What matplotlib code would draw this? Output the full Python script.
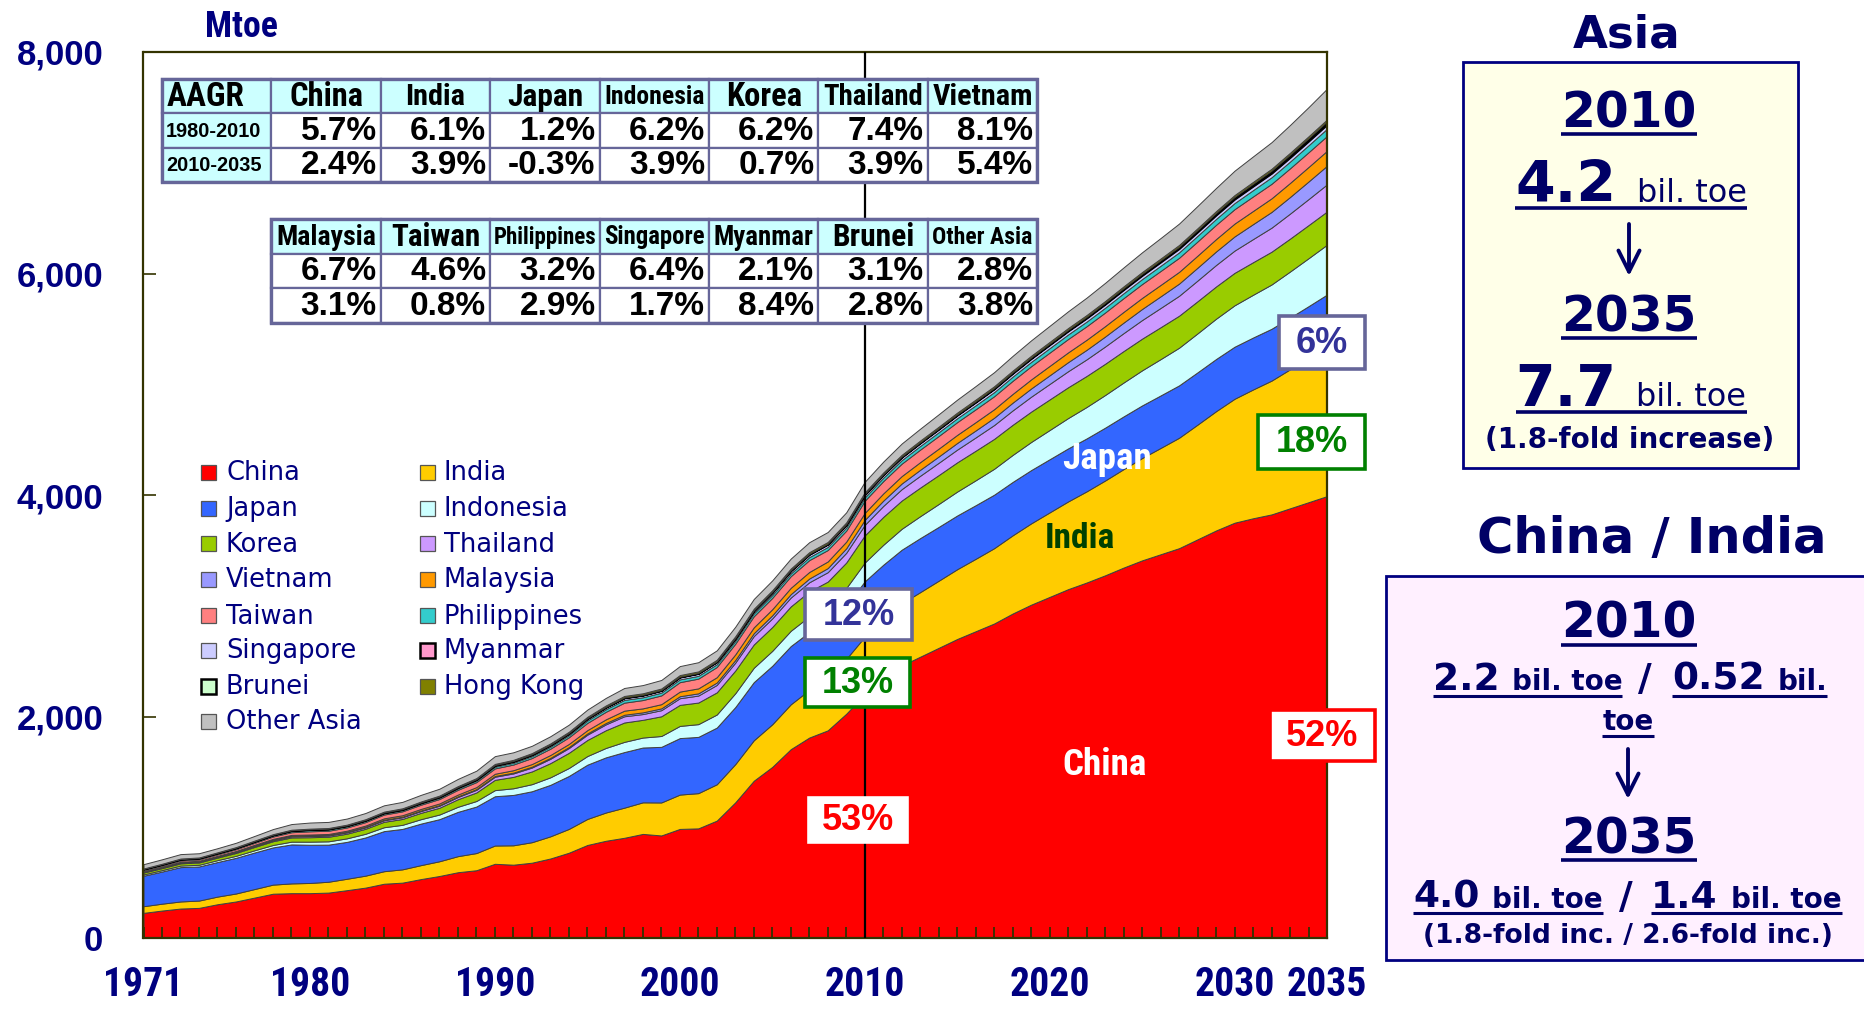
import matplotlib
matplotlib.use("Agg")
import matplotlib.pyplot as plt
from matplotlib.patches import Rectangle
from matplotlib.ticker import FuncFormatter
from matplotlib.font_manager import FontProperties
from matplotlib import font_manager

# ---------------------------------------------------------------- data (Mtoe)
years = list(range(1971, 2036))

china = [227, 248, 266, 272, 305, 330, 365, 400, 405, 405,
         410, 432, 455, 490, 500, 532, 560, 594, 612, 670,
         662, 680, 718, 770, 840, 878, 905, 940, 926, 985,
         990, 1060, 1225, 1420, 1545, 1705, 1810, 1875, 2025, 2200,
         2340, 2460, 2540, 2620, 2700, 2770, 2840, 2930, 3010, 3080,
         3150, 3210, 3275, 3345, 3410, 3465, 3520, 3600, 3680, 3750,
         3790, 3825, 3880, 3935, 3990]
india = [60, 62, 64, 66, 69, 72, 77, 82, 88, 92,
         98, 103, 108, 113, 120, 126, 133, 145, 155, 165,
         175, 185, 200, 215, 235, 255, 272, 285, 298, 310,
         318, 328, 345, 365, 385, 405, 430, 460, 495, 520,
         540, 561, 583, 606, 630, 654, 680, 706, 734, 763,
         792, 823, 856, 889, 924, 960, 997, 1036, 1077, 1119,
         1163, 1208, 1255, 1304, 1355]
japan = [275, 290, 310, 308, 312, 322, 330, 336, 352, 345,
         335, 333, 345, 362, 365, 375, 380, 400, 420, 445,
         455, 460, 465, 478, 490, 498, 502, 495, 502, 510,
         508, 512, 515, 525, 528, 526, 522, 505, 480, 500,
         490, 485, 488, 486, 485, 484, 483, 482, 481, 480,
         479, 478, 477, 476, 475, 474, 473, 472, 471, 470,
         469, 468, 467, 466, 465]
indonesia = [12, 13, 14, 15, 17, 18, 20, 22, 25, 28,
             30, 32, 33, 35, 37, 40, 42, 46, 50, 55,
             60, 64, 68, 72, 78, 85, 92, 90, 98, 110,
             115, 118, 125, 130, 135, 138, 142, 150, 160, 170,
             180, 189, 198, 207, 216, 225, 234, 244, 254, 264,
             274, 284, 295, 306, 317, 328, 340, 352, 364, 374,
             386, 400, 416, 433, 450]
korea = [17, 18, 20, 21, 23, 26, 30, 34, 38, 40,
         41, 42, 45, 49, 53, 57, 61, 68, 77, 93,
         103, 115, 128, 137, 145, 160, 175, 160, 178, 190,
         195, 200, 205, 210, 215, 220, 225, 228, 230, 245,
         252, 255, 258, 261, 264, 267, 270, 272, 274, 276,
         278, 280, 282, 284, 286, 288, 289, 290, 291, 293,
         294, 296, 297, 299, 300]
thailand = [5, 5.5, 6, 6.5, 7, 8, 8.5, 9.5, 10.5, 11,
            11.5, 12, 13, 14, 15, 16, 18, 20, 24, 28,
            31, 35, 39, 43, 48, 53, 56, 52, 55, 60,
            63, 67, 71, 76, 78, 80, 83, 85, 88, 95,
            99, 103, 107, 111, 115, 120, 125, 130, 135, 140,
            145, 150, 156, 162, 168, 174, 180, 187, 194, 201,
            209, 217, 226, 235, 245]
vietnam = [3, 3.2, 3.4, 3.5, 3.5, 3.8, 4, 4.2, 4.3, 4.4,
           4.5, 4.6, 4.8, 5, 5.3, 5.6, 6, 6.3, 6.6, 7,
           7.3, 7.8, 8.5, 9.2, 11, 12.5, 14, 15.5, 16.5, 18,
           20, 22, 24, 26, 28, 31, 34, 37, 41, 45,
           48, 51, 54, 57, 60, 63, 66, 70, 74, 78,
           82, 86, 90, 95, 100, 105, 110, 116, 122, 128,
           135, 142, 150, 159, 168]
malaysia = [4, 4.3, 4.8, 5.3, 5.5, 6, 6.8, 7.5, 8.3, 9,
            9.5, 10.5, 11.5, 12.5, 13.5, 14, 15, 16, 18, 20,
            22, 24, 26, 28, 30, 33, 37, 36, 38, 42,
            45, 48, 51, 53, 55, 57, 59, 60, 60, 63,
            65, 67, 69, 71, 73, 75, 77, 79, 82, 85,
            88, 91, 94, 97, 100, 103, 106, 109, 112, 116,
            119, 123, 127, 131, 135]
taiwan = [10, 11, 12.5, 13, 14, 16, 18, 21, 24, 29,
          29, 29, 31, 34, 35, 38, 40, 43, 45, 48,
          51, 54, 57, 60, 65, 68, 72, 75, 79, 85,
          88, 92, 96, 100, 102, 105, 107, 103, 99, 110,
          111, 112, 113, 114, 115, 116, 117, 118, 119, 120,
          121, 122, 123, 124, 125, 126, 127, 128, 129, 130,
          131, 131, 132, 133, 134]
philippines = [8, 8.5, 9, 9, 9.5, 10, 10.5, 11, 11.5, 12,
               12, 12, 12, 11, 11, 11.5, 12, 13, 14, 16,
               16, 17, 18, 19, 22, 23, 25, 25, 25, 25,
               25, 25, 26, 26, 26, 25, 27, 28, 29, 30,
               31, 32, 33, 34, 35, 36, 37, 38, 39, 40,
               41, 42, 43, 44, 45, 47, 49, 51, 53, 55,
               57, 59, 61, 63, 65]
singapore = [2, 2.2, 2.4, 2.5, 2.6, 2.8, 3, 3.3, 3.6, 4,
             4.3, 4.6, 5, 5.5, 6, 6.5, 7.5, 8.5, 10, 12,
             13, 13.5, 14.5, 15.5, 17, 17.5, 18, 18.5, 19, 20,
             21, 21, 21.5, 22, 23, 23.5, 24, 24, 24.5, 25,
             25.5, 26, 26.5, 27, 27.5, 28, 28.5, 29, 29.5, 30,
             30.5, 31, 31.5, 32, 32.5, 33, 33.5, 34, 34.5, 35,
             35.5, 36, 36.5, 37, 38]
myanmar = [1.2, 1.2, 1.3, 1.3, 1.3, 1.4, 1.4, 1.5, 1.5, 1.6,
           1.6, 1.7, 1.7, 1.7, 1.8, 1.8, 1.8, 1.6, 1.6, 1.7,
           1.7, 1.8, 1.9, 2.0, 2.1, 2.2, 2.3, 2.4, 2.5, 2.6,
           2.7, 2.8, 2.8, 2.9, 3.0, 3.0, 3.1, 3.0, 3.0, 3.0,
           3.3, 3.6, 3.9, 4.2, 4.6, 5.0, 5.4, 5.8, 6.3, 6.8,
           7.4, 8.0, 8.7, 9.4, 10.2, 11.0, 12.0, 13.0, 14.0, 15.2,
           16.5, 17.9, 19.4, 20.6, 22.0]
brunei = [0.5, 0.6, 0.6, 0.7, 0.8, 0.9, 1.0, 1.0, 1.1, 1.2,
          1.2, 1.3, 1.3, 1.4, 1.5, 1.5, 1.6, 1.7, 1.7, 1.8,
          1.9, 2.0, 2.0, 2.1, 2.2, 2.2, 2.3, 2.3, 2.4, 2.4,
          2.5, 2.5, 2.6, 2.6, 2.7, 2.7, 2.8, 2.9, 2.9, 3.0,
          3.1, 3.2, 3.3, 3.4, 3.5, 3.6, 3.7, 3.8, 3.9, 4.0,
          4.1, 4.2, 4.3, 4.4, 4.5, 4.6, 4.8, 5.0, 5.1, 5.2,
          5.4, 5.5, 5.7, 5.8, 6.0]
hong_kong = [3, 3.2, 3.5, 3.5, 3.7, 4, 4.3, 4.6, 5, 5.3,
             5.6, 6, 6.3, 6.8, 7.2, 7.6, 8, 8.5, 9, 9.5,
             10, 10.5, 11, 11.5, 12, 12.5, 13, 13, 13.5, 14,
             14, 14, 14.5, 14.5, 14.5, 14.5, 15, 15, 15, 15,
             15.1, 15.2, 15.3, 15.4, 15.5, 15.6, 15.7, 15.8, 15.9, 16,
             16.1, 16.2, 16.3, 16.4, 16.5, 16.6, 16.7, 16.8, 16.9, 17,
             17.2, 17.4, 17.6, 17.8, 18]
other_asia = [39, 40, 40, 38, 37, 39, 42, 46, 51, 55,
              55, 55, 56, 57, 58, 60, 62, 65, 67, 70,
              68, 66, 65, 64, 65, 68, 72, 74, 77, 81,
              83, 85, 86, 88, 89, 90, 90, 90, 91, 95,
              98, 102, 107, 112, 117, 122, 127, 133, 139, 145,
              151, 157, 164, 171, 178, 185, 193, 201, 209, 220,
              230, 240, 251, 263, 278]

# stacking order, bottom to top
series_names = ["China", "India", "Japan", "Indonesia", "Korea", "Thailand",
                "Vietnam", "Malaysia", "Taiwan", "Philippines", "Singapore",
                "Myanmar", "Brunei", "Hong Kong", "Other Asia"]
series_values = [china, india, japan, indonesia, korea, thailand, vietnam,
                 malaysia, taiwan, philippines, singapore, myanmar, brunei,
                 hong_kong, other_asia]
series_colors = ["#FF0000", "#FFCC00", "#3366FF", "#CCFFFF", "#99CC00",
                 "#CC99FF", "#9999FF", "#FF9900", "#FF8080", "#33CCCC",
                 "#CCCCFF", "#FF99CC", "#CCFFCC", "#808000", "#C0C0C0"]

# growth-rate tables
aagr_names_1 = ["China", "India", "Japan", "Indonesia", "Korea", "Thailand", "Vietnam"]
aagr_8010_1 = ["5.7%", "6.1%", "1.2%", "6.2%", "6.2%", "7.4%", "8.1%"]
aagr_1035_1 = ["2.4%", "3.9%", "-0.3%", "3.9%", "0.7%", "3.9%", "5.4%"]
aagr_names_2 = ["Malaysia", "Taiwan", "Philippines", "Singapore", "Myanmar", "Brunei", "Other Asia"]
aagr_8010_2 = ["6.7%", "4.6%", "3.2%", "6.4%", "2.1%", "3.1%", "2.8%"]
aagr_1035_2 = ["3.1%", "0.8%", "2.9%", "1.7%", "8.4%", "2.8%", "3.8%"]
period_labels = ["1980-2010", "2010-2035"]

x_tick_years = [1971, 1980, 1990, 2000, 2010, 2020, 2030, 2035]
y_ticks = [0, 2000, 4000, 6000, 8000]

# ---------------------------------------------------------------- fonts
NAVY = "#000080"
DARK = "#000066"
GRID_EDGE = "#666699"
available = {f.name for f in font_manager.fontManager.ttflist}
ARIAL = "Liberation Sans" if "Liberation Sans" in available else "DejaVu Sans"
GOTHIC = "DejaVu Sans"


def _weight_num(w):
    if isinstance(w, (int, float)):
        return w
    return {"bold": 700, "heavy": 800, "black": 900, "extra bold": 800,
            "semibold": 600, "demibold": 600}.get(str(w).lower(), 400)


def condensed_bold():
    """Pick a bold narrow/condensed face if one is installed."""
    prefs = ["Liberation Sans Narrow", "Arial Narrow", "Roboto Condensed",
             "Open Sans Condensed", "DejaVu Sans Condensed", "Noto Sans Condensed"]
    cands = []
    for f in font_manager.fontManager.ttflist:
        name = f.name
        narrowish = ("Narrow" in name or "Condensed" in name or
                     str(f.stretch) in ("condensed", "semi-condensed", "extra-condensed"))
        if not narrowish or f.style != "normal" or _weight_num(f.weight) < 600:
            continue
        rank = prefs.index(name) if name in prefs else len(prefs)
        cands.append((rank, -_weight_num(f.weight) if _weight_num(f.weight) <= 700 else 0, f.fname))
    if cands:
        cands.sort()
        return FontProperties(fname=cands[0][2])
    return FontProperties(family=ARIAL, weight="bold")


NARROW_FP = condensed_bold()


def narrow(size):
    fp = NARROW_FP.copy()
    fp.set_size(size)
    return fp


# ---------------------------------------------------------------- figure
W, H = 1865, 1010
fig = plt.figure(figsize=(W / 100, H / 100), dpi=100, facecolor="white")

AX_L, AX_R, AX_T, AX_B = 143.5, 1327, 52, 938
ax = fig.add_axes([AX_L / W, 1 - AX_B / H, (AX_R - AX_L) / W, (AX_B - AX_T) / H])

polys = ax.stackplot(years, *series_values, colors=series_colors,
                     edgecolor="#404040", linewidth=0.7)
for name, poly in zip(series_names, polys):
    if name in ("Brunei", "Myanmar"):
        poly.set_edgecolor("black")
        poly.set_linewidth(1.3)

ax.axvline(2010, color="black", lw=1.6, zorder=5)
ax.set_xlim(1971, 2035)
ax.set_ylim(0, 8000)
for sp in ax.spines.values():
    sp.set_color("#333300")
    sp.set_linewidth(1.6)

ax.set_yticks(y_ticks)
ax.yaxis.set_major_formatter(FuncFormatter(lambda v, p: f"{int(v):,}"))
ax.tick_params(axis="y", direction="in", length=9, width=1.2, color="#333300",
               pad=29, labelsize=25, labelcolor=NAVY)
ax.set_xticks(x_tick_years)
ax.set_xticks(years, minor=True)
ax.set_xticklabels([str(y) for y in x_tick_years])
ax.tick_params(axis="x", which="both", direction="in", length=8, width=1.3,
               color="#333300", pad=20, labelcolor=NAVY)
for lab in ax.get_yticklabels():
    lab.set_fontfamily(ARIAL)
    lab.set_fontweight("bold")

# overlay in figure pixels (y downward) for annotations
ov = fig.add_axes([0, 0, 1, 1], zorder=10)
ov.set_xlim(0, W)
ov.set_ylim(H, 0)
ov.axis("off")
ov.patch.set_alpha(0)

renderer = fig.canvas.get_renderer()


def width_of(t):
    return t.get_window_extent(renderer=renderer).width


def fit(text, family, weight, target, ref=20):
    t = ov.text(0, 0, text, fontsize=ref, family=family, weight=weight)
    w = width_of(t)
    t.remove()
    return ref * target / w


def fit_narrow(text, target, ref=20):
    t = ov.text(0, 0, text, fontproperties=narrow(ref))
    w = width_of(t)
    t.remove()
    return ref * target / w


# x tick labels in the condensed face, sized to the label width
xsize = min(30, fit_narrow("1971", 80))
for lab in ax.get_xticklabels():
    lab.set_fontproperties(narrow(xsize))

# y-axis unit
ov.text(241, 27, "Mtoe", fontproperties=narrow(min(28, fit_narrow("Mtoe", 73))),
        color=NAVY, ha="center", va="center")

# ---------------------------------------------------------------- AAGR tables
CW, RH = 109.4, 34.5


def cell(x, y, w, h, fc, lw=1.6):
    ov.add_patch(Rectangle((x, y), w, h, facecolor=fc, edgecolor=GRID_EDGE,
                           linewidth=lw, zorder=1))


header_widths = {"AAGR": 78, "China": 74, "India": 60, "Japan": 76,
                 "Indonesia": 100, "Korea": 76, "Thailand": 100, "Vietnam": 100,
                 "Malaysia": 100, "Taiwan": 89, "Philippines": 102,
                 "Singapore": 100, "Myanmar": 100, "Brunei": 82,
                 "Other Asia": 100}


def draw_table(x0, y0, names, row1, row2, with_labels):
    cols = len(names) + (1 if with_labels else 0)
    start = x0
    if with_labels:
        cell(x0, y0, CW, RH, "#CCFFFF")
        ov.text(x0 + 5, y0 + RH / 2 + 1, "AAGR",
                fontproperties=narrow(min(26, fit_narrow("AAGR", header_widths["AAGR"]))),
                ha="left", va="center", color="black", zorder=2)
        for r, lab in enumerate(period_labels):
            cell(x0, y0 + RH * (r + 1), CW, RH, "#CCFFFF")
            ov.text(x0 + 4, y0 + RH * (r + 1.5) + 1, lab, family=ARIAL, weight="bold",
                    fontsize=fit(lab, ARIAL, "bold", 96), ha="left", va="center",
                    color="black", zorder=2)
        start = x0 + CW
    for i, name in enumerate(names):
        cx = start + CW * i
        cell(cx, y0, CW, RH, "#CCFFFF")
        ov.text(cx + CW / 2, y0 + RH / 2 + 1, name,
                fontproperties=narrow(min(26, fit_narrow(name, header_widths[name]))),
                ha="center", va="center", color="black", zorder=2)
        for r, val in enumerate((row1[i], row2[i])):
            cell(cx, y0 + RH * (r + 1), CW, RH, "white")
            ov.text(cx + CW - 4, y0 + RH * (r + 1.5) + 1, val, family=ARIAL,
                    weight="bold", fontsize=24, ha="right", va="center",
                    color="black", zorder=2)
    ov.add_patch(Rectangle((x0, y0), CW * cols, RH * 3, facecolor="none",
                           edgecolor=GRID_EDGE, linewidth=2.4, zorder=3))


draw_table(162, 78.5, aagr_names_1, aagr_8010_1, aagr_1035_1, True)
draw_table(162 + CW, 219, aagr_names_2, aagr_8010_2, aagr_1035_2, False)

# ---------------------------------------------------------------- legend
col1 = ["China", "Japan", "Korea", "Vietnam", "Taiwan", "Singapore", "Brunei", "Other Asia"]
col2 = ["India", "Indonesia", "Thailand", "Malaysia", "Philippines", "Myanmar", "Hong Kong"]
row_y = [472, 508.5, 543.5, 579, 615.5, 650.5, 686, 721]
color_of = dict(zip(series_names, series_colors))
for xs, xt, names in ((201, 226, col1), (420, 444, col2)):
    for name, yc in zip(names, row_y):
        thick = name in ("Brunei", "Myanmar")
        ov.add_patch(Rectangle((xs, yc - 7.5), 15, 15, facecolor=color_of[name],
                               edgecolor="black" if thick else "#555555",
                               linewidth=1.8 if thick else 0.9, zorder=2))
        ov.text(xt, yc + 1, name, family=GOTHIC, fontsize=18.5, color=NAVY,
                ha="left", va="center", zorder=2)

# ---------------------------------------------------------------- in-chart labels
for txt, x, y, w, c in (("Japan", 1107, 459, 89, "white"),
                        ("India", 1080, 539, 70, "#004000"),
                        ("China", 1105, 765, 84, "white")):
    ov.text(x, y, txt, fontproperties=narrow(min(30, fit_narrow(txt, w))),
            color=c, ha="center", va="center")

share_boxes = [  # (text, x0, y0, x1, y1, text colour, border colour)
    ("12%", 805, 589, 912, 640, "#333399", GRID_EDGE),
    ("13%", 805, 658, 910, 707, "#008000", "#008000"),
    ("53%", 809, 798, 907, 842, "#FF0000", "white"),
    ("6%", 1279, 316, 1365, 369, "#333399", GRID_EDGE),
    ("18%", 1258, 415, 1365, 469, "#008000", "#008000"),
    ("52%", 1270, 710, 1375, 761, "#FF0000", "#FF0000"),
]
for txt, x0, y0, x1, y1, tc, bc in share_boxes:
    ov.add_patch(Rectangle((x0, y0), x1 - x0, y1 - y0, facecolor="white",
                           edgecolor=bc, linewidth=2.6, zorder=3))
    ov.text((x0 + x1) / 2, (y0 + y1) / 2 + 1, txt, family=ARIAL, weight="bold",
            fontsize=26, color=tc, ha="center", va="center", zorder=4)

# ---------------------------------------------------------------- side panels


def rich(pieces, y, x_left=None, x_center=None, ul_off=6, ul_lw=2.2, color=DARK):
    arts, widths = [], []
    for txt, size, weight, gap, grp in pieces:
        t = ov.text(0, y, txt, fontsize=size, weight=weight, color=color,
                    family=GOTHIC, ha="left", va="baseline", zorder=4)
        arts.append(t)
        widths.append(width_of(t))
    total = sum(widths) + sum(p[3] for p in pieces[:-1])
    x = x_left if x_left is not None else x_center - total / 2
    spans = {}
    for t, w, p in zip(arts, widths, pieces):
        t.set_x(x)
        g = p[4]
        if g is not None:
            a, b = spans.get(g, (x, x + w))
            spans[g] = (min(a, x), max(b, x + w))
        x += w + p[3]
    for a, b in spans.values():
        ov.plot([a, b], [y + ul_off, y + ul_off], color=color, lw=ul_lw,
                solid_capstyle="butt", zorder=4)


def arrow(x, y0, y1):
    ov.annotate("", xy=(x, y1), xytext=(x, y0),
                arrowprops=dict(arrowstyle="->", lw=2.8, color=DARK,
                                mutation_scale=38, shrinkA=0, shrinkB=0), zorder=4)


# Asia
ov.text(1627, 48, "Asia", family=GOTHIC, weight="bold", color=DARK,
        fontsize=fit("Asia", GOTHIC, "bold", 108), ha="center", va="baseline")
ov.add_patch(Rectangle((1463, 62), 335, 406, facecolor="#FFFFE8",
                       edgecolor=NAVY, linewidth=2, zorder=2))
rich([("2010", 35, "bold", 0, 0)], 127, x_center=1629, ul_off=7, ul_lw=2.6)
rich([("4.2", 41, "bold", 20, 0), ("bil. toe", 23, "normal", 0, 0)], 202,
     x_center=1631, ul_off=5.5, ul_lw=2.6)
arrow(1629, 224, 276)
rich([("2035", 35, "bold", 0, 0)], 331, x_center=1629, ul_off=7, ul_lw=2.6)
rich([("7.7", 41, "bold", 20, 0), ("bil. toe", 23, "normal", 0, 0)], 406,
     x_center=1631, ul_off=5.5, ul_lw=2.6)
ov.text(1630, 448, "(1.8-fold increase)", family=GOTHIC, weight="bold", color=DARK,
        fontsize=fit("(1.8-fold increase)", GOTHIC, "bold", 289),
        ha="center", va="baseline", zorder=4)

# China / India
ov.text(1652, 553, "China / India", family=GOTHIC, weight="bold", color=DARK,
        fontsize=fit("China / India", GOTHIC, "bold", 350), ha="center", va="baseline")
ov.add_patch(Rectangle((1386, 576), 500, 384, facecolor="#FFF0FF",
                       edgecolor=NAVY, linewidth=2, zorder=2))
rich([("2010", 35, "bold", 0, 0)], 638, x_center=1629, ul_off=7, ul_lw=2.6)
rich([("2.2", 27, "bold", 12, 0), ("bil. toe", 20, "bold", 16, 0),
      ("/", 27, "bold", 20, None), ("0.52", 27, "bold", 13, 1),
      ("bil.", 20, "bold", 0, 1)], 690, x_left=1433, ul_off=6)
rich([("toe", 20, "bold", 0, 0)], 730, x_center=1628, ul_off=6)
arrow(1628, 749, 799)
rich([("2035", 35, "bold", 0, 0)], 853, x_center=1629, ul_off=7, ul_lw=2.6)
rich([("4.0", 27, "bold", 13, 0), ("bil. toe", 20, "bold", 16, 0),
      ("/", 27, "bold", 18, None), ("1.4", 27, "bold", 14, 1),
      ("bil. toe", 20, "bold", 0, 1)], 908, x_left=1413, ul_off=5)
ov.text(1628, 943, "(1.8-fold inc. / 2.6-fold inc.)", family=GOTHIC, weight="bold",
        color=DARK, fontsize=fit("(1.8-fold inc. / 2.6-fold inc.)", GOTHIC, "bold", 410),
        ha="center", va="baseline", zorder=4)

fig.savefig("out.png", dpi=100, facecolor="white")
